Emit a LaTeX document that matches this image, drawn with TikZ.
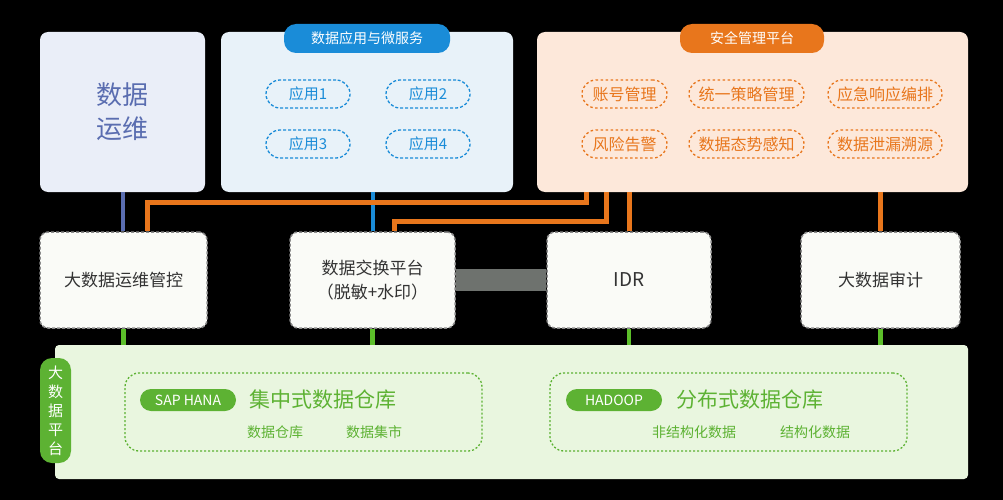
\documentclass[tikz,border=0pt]{standalone}
\usepackage{fontspec}
\setmainfont{Noto Sans CJK SC}
\usetikzlibrary{positioning}
\definecolor{opsfill}{HTML}{EAEEF8}
\definecolor{opsblue}{HTML}{5A6DB0}
\definecolor{appfill}{HTML}{E8F2F9}
\definecolor{appblue}{HTML}{1A8CD8}
\definecolor{secfill}{HTML}{FDE8DA}
\definecolor{secorange}{HTML}{E8761C}
\definecolor{boxfill}{HTML}{FAFBF7}
\definecolor{boxline}{HTML}{8A8A8A}
\definecolor{platfill}{HTML}{E9F6DF}
\definecolor{platgreen}{HTML}{5DB233}
\definecolor{linkgreen}{HTML}{5CBF2A}
\definecolor{linkgray}{HTML}{6E726E}
\definecolor{txtdark}{HTML}{333333}
\tikzset{
  panel/.style={rounded corners=8pt,inner sep=0pt,align=center},
  tagpill/.style={rounded corners=12pt,inner sep=0pt,text=white,
    minimum height=29pt,font=\fontsize{14}{16}\selectfont},
  apppill/.style={draw=appblue,text=appblue,rounded corners=14pt,line width=1.3pt,
    dash pattern=on 3pt off 2pt,minimum width=84pt,minimum height=28pt,inner sep=0pt,
    font=\fontsize{15}{17}\selectfont},
  secpill/.style={draw=secorange,text=secorange,rounded corners=14pt,line width=1.3pt,
    dash pattern=on 2.5pt off 2.5pt,minimum height=28pt,inner sep=0pt,
    font=\fontsize{16}{18}\selectfont},
  midbox/.style={draw=boxline,fill=boxfill,text=txtdark,rounded corners=8pt,line width=1.5pt,
    dash pattern=on 3pt off 2pt,minimum height=96pt,inner sep=0pt,align=center,
    font=\fontsize{17}{24}\selectfont},
  whbox/.style={draw=platgreen,rounded corners=14pt,line width=1.3pt,
    dash pattern=on 2pt off 2pt,minimum width=357pt,minimum height=78pt,inner sep=0pt},
  techpill/.style={fill=platgreen,text=white,rounded corners=11pt,minimum width=96pt,
    minimum height=22pt,inner sep=0pt,font=\fontsize{14}{16}\selectfont},
  subtxt/.style={text=platgreen,inner sep=0pt,font=\fontsize{14}{16}\selectfont},
  bluelink/.style={line width=4pt},
  orangelink/.style={draw=secorange,line width=5pt},
  greenlink/.style={draw=linkgreen,line width=4.5pt}
}
\begin{document}
\begin{tikzpicture}[x=1pt,y=-1pt]
\fill[black] (0,0) rectangle (1003,500);
\useasboundingbox (0,0) rectangle (1003,500);
% top layer
\node[panel,fill=opsfill,text=opsblue,minimum width=165pt,minimum height=160pt,
  font=\fontsize{26}{34}\selectfont] (ops) at (122.5,112) {数据\\运维};
\node[panel,fill=appfill,minimum width=292pt,minimum height=160pt] (apps) at (367,112) {};
\node[panel,fill=secfill,minimum width=431pt,minimum height=160pt] (sec) at (752.5,112) {};
\node[tagpill,fill=appblue,minimum width=166pt] (appstag) at (367,38.5) {数据应用与微服务};
\node[tagpill,fill=secorange,minimum width=144pt] (sectag) at (752,38.5) {安全管理平台};
\foreach \n/\x/\y in {1/308/94,2/428/94,3/308/144,4/428/144}
  \node[apppill] (app\n) at (\x,\y) {应用\n};
\node[secpill,minimum width=85pt] (acct) at (624.5,94) {账号管理};
\node[secpill,minimum width=115pt] (policy) at (746.5,94) {统一策略管理};
\node[secpill,minimum width=114pt] (resp) at (885,94) {应急响应编排};
\node[secpill,minimum width=85pt] (risk) at (624.5,144) {风险告警};
\node[secpill,minimum width=115pt] (aware) at (746.5,144) {数据态势感知};
\node[secpill,minimum width=114pt] (trace) at (885,144) {数据泄漏溯源};
% middle layer
\node[midbox,minimum width=167pt] (opsctl) at (123.5,280) {大数据运维管控};
\node[midbox,minimum width=165pt] (xchg) at (372.5,280) {数据交换平台\\（脱敏+水印）};
\node[midbox,minimum width=164pt,font=\fontsize{19}{24}\selectfont] (idr) at (629,280) {IDR};
\node[midbox,minimum width=159pt] (audit) at (880.5,280) {大数据审计};
% bottom layer
\node[panel,fill=platfill,minimum width=913pt,minimum height=134pt,rounded corners=4pt] (plat) at (511.5,412) {};
\node[fill=platgreen,text=white,rounded corners=12pt,minimum width=31pt,minimum height=105pt,
  inner sep=0pt,align=center,font=\fontsize{15}{19}\selectfont] (platlbl) at (55.5,410.5)
  {大\\数\\据\\平\\台};
\node[whbox] (dwa) at (303.5,412) {};
\node[whbox] (dwb) at (728.5,412) {};
\node[techpill] (sap) at (188,400) {SAP HANA};
\node[subtxt,font=\fontsize{21}{24}\selectfont,right=13pt of sap] (central) {集中式数据仓库};
\node[subtxt] (dwh) at (275,432) {数据仓库};
\node[subtxt] (mart) at (374,432) {数据集市};
\node[techpill] (hadoop) at (614,400) {HADOOP};
\node[subtxt,font=\fontsize{21}{24}\selectfont,right=14pt of hadoop] (distrib) {分布式数据仓库};
\node[subtxt] (unstruct) at (694,432) {非结构化数据};
\node[subtxt] (struct) at (815,432) {结构化数据};
% connectors
\draw[bluelink,draw=opsblue] (ops.south) -- (ops.south |- opsctl.north);
\draw[bluelink,draw=appblue] (xchg.north |- apps.south) -- (xchg.north);
\draw[orangelink] ([xshift=24pt]opsctl.north) -- ++(0,-29) -| ([xshift=-166.5pt]sec.south);
\draw[orangelink] ([xshift=22pt]xchg.north) -- ++(0,-10) -| ([xshift=-146.5pt]sec.south);
\draw[orangelink] (idr.north) -- (idr.north |- sec.south);
\draw[orangelink] (audit.north) -- (audit.north |- sec.south);
\draw[draw=linkgray,line width=22pt] (xchg.east) -- (idr.west);
\foreach \b in {opsctl,xchg,idr,audit}
  \draw[greenlink] (\b.south) -- (\b.south |- plat.north);
\end{tikzpicture}
\end{document}
